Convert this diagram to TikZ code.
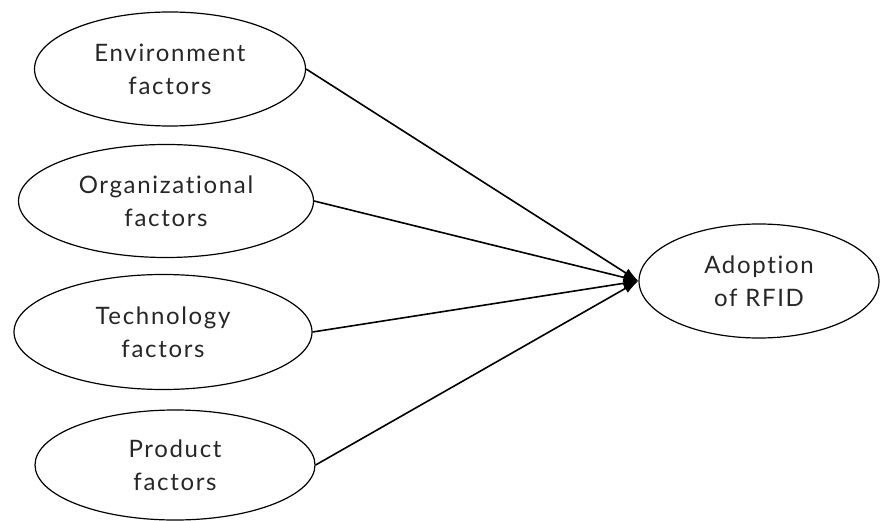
\documentclass[tikz,border=0pt]{standalone}
\usepackage{fontspec}
\setmainfont{Lato}[LetterSpace=7, Ligatures=NoCommon]
\usetikzlibrary{shapes.geometric,arrows.meta}
\begin{document}
\begin{tikzpicture}[x=1pt,y=-1pt,
  factor/.style={draw, ellipse, line width=1.2pt, inner sep=0pt, align=center,
    text=black!85, font=\fontsize{24}{33}\selectfont},
  link/.style={line width=1.6pt, -{Latex[length=15pt,width=10pt]}}]
\useasboundingbox (0,0) rectangle (880,521);
% factor ellipses
\node[factor, minimum width=271pt, minimum height=114pt] (env) at (170,69) {Environment\\factors};
\node[factor, minimum width=295pt, minimum height=113pt] (org) at (166,201) {Organizational\\factors};
\node[factor, minimum width=298pt, minimum height=115pt] (tech) at (163,332) {Technology\\factors};
\node[factor, minimum width=280pt, minimum height=110pt] (prod) at (175,465) {Product\\factors};
% outcome
\node[factor, minimum width=240pt, minimum height=114pt] (adopt) at (759,281) {Adoption\\of RFID};
% links
\draw[link] (env.east) -- (adopt.west);
\draw[link] (org.east) -- (adopt.west);
\draw[link] (tech.east) -- (adopt.west);
\draw[link] (prod.east) -- (adopt.west);
\end{tikzpicture}
\end{document}
